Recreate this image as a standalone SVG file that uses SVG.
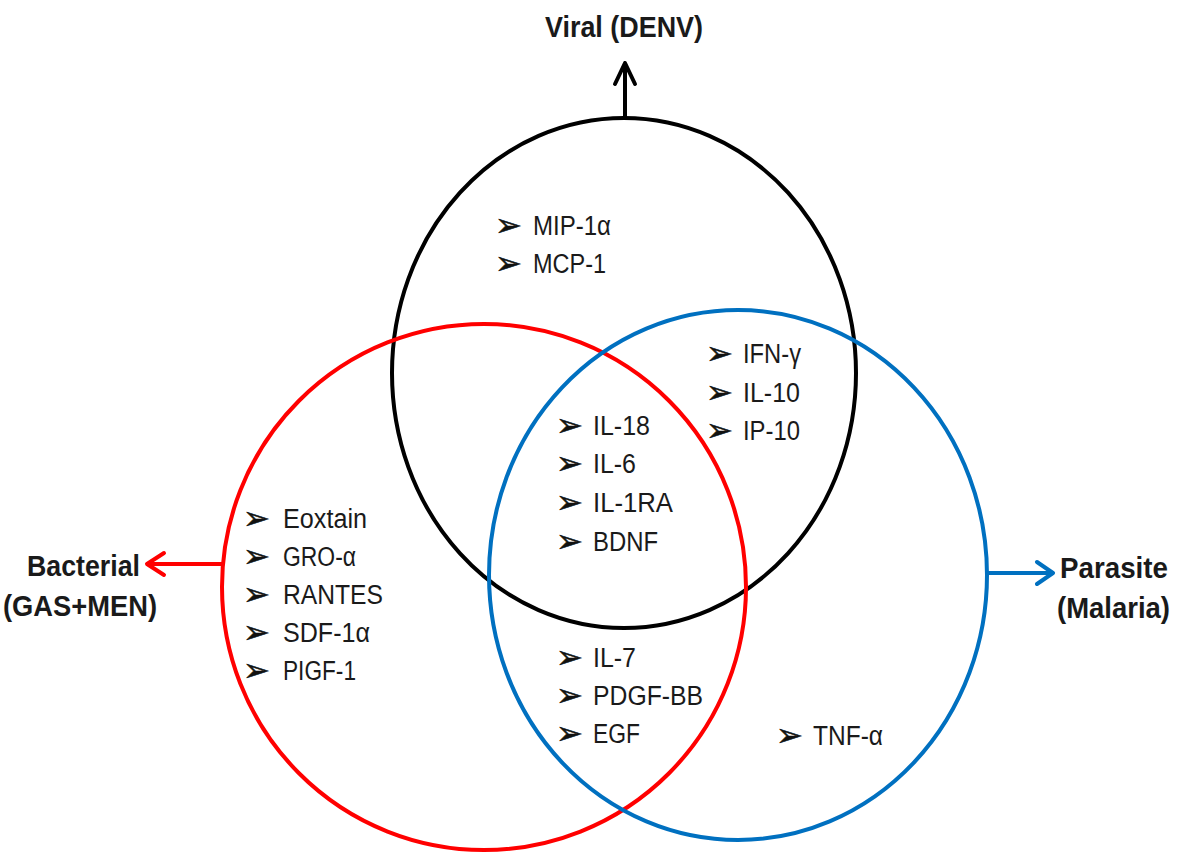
<svg xmlns="http://www.w3.org/2000/svg" width="1179" height="853" viewBox="0 0 1179 853">
  <style>
    .ring { fill: none; stroke-width: 4; }
    .lbl { font-family: "Liberation Sans", Arial, sans-serif; font-size: 30px; font-weight: bold; fill: #1a1a1a; }
    .item { font-family: "Liberation Sans", Arial, sans-serif; font-size: 27px; fill: #1a1a1a; }
    .bul { font-family: "DejaVu Sans", sans-serif; font-size: 32px; fill: #111; stroke: #111; stroke-width: 0.6; }
    .arw { fill: none; stroke-width: 4; stroke-linecap: round; stroke-linejoin: round; }
  </style>
  <rect width="1179" height="853" fill="#ffffff"/>

  <!-- set outlines -->
  <g id="viral">
    <ellipse class="ring" cx="624" cy="373" rx="232" ry="255" stroke="#000000"/>
    <text class="lbl" x="545" y="37" textLength="158" lengthAdjust="spacingAndGlyphs">Viral (DENV)</text>
  </g>
  <g id="bacterial">
    <ellipse class="ring" cx="484" cy="587" rx="262" ry="263" stroke="#ff0000"/>
    <text class="lbl" x="27" y="576" textLength="113" lengthAdjust="spacingAndGlyphs">Bacterial</text>
    <text class="lbl" x="3" y="616" textLength="154" lengthAdjust="spacingAndGlyphs">(GAS+MEN)</text>
  </g>
  <g id="parasite">
    <ellipse class="ring" cx="738" cy="575" rx="249" ry="265" stroke="#0070c0"/>
    <text class="lbl" x="1060" y="578" textLength="108" lengthAdjust="spacingAndGlyphs">Parasite</text>
    <text class="lbl" x="1057" y="618" textLength="113" lengthAdjust="spacingAndGlyphs">(Malaria)</text>
  </g>

  <!-- arrows from each set to its label -->
  <g id="connectors">
    <path class="arw" stroke="#000000" d="M625 118 V63 M615 84 L625 63 L635 84"/>
    <path class="arw" stroke="#ff0000" d="M222 564 H147 M164 553 L147 564 L164 575"/>
    <path class="arw" stroke="#0070c0" d="M988 573 H1053 M1037 562 L1053 573 L1037 584"/>
  </g>

  <!-- viral only -->
  <g id="list-viral">
    <text class="bul" x="495" y="236">➢</text><text class="item" x="533" y="235" textLength="78" lengthAdjust="spacingAndGlyphs">MIP-1α</text>
    <text class="bul" x="495" y="274">➢</text><text class="item" x="533" y="273" textLength="73" lengthAdjust="spacingAndGlyphs">MCP-1</text>
  </g>

  <!-- viral + parasite -->
  <g id="list-viral-parasite">
    <text class="bul" x="706" y="364">➢</text><text class="item" x="743" y="363" textLength="58" lengthAdjust="spacingAndGlyphs">IFN-γ</text>
    <text class="bul" x="706" y="403">➢</text><text class="item" x="743" y="402" textLength="57" lengthAdjust="spacingAndGlyphs">IL-10</text>
    <text class="bul" x="706" y="441">➢</text><text class="item" x="743" y="440" textLength="57" lengthAdjust="spacingAndGlyphs">IP-10</text>
  </g>

  <!-- all three -->
  <g id="list-common">
    <text class="bul" x="556" y="436">➢</text><text class="item" x="593" y="435" textLength="57" lengthAdjust="spacingAndGlyphs">IL-18</text>
    <text class="bul" x="556" y="474">➢</text><text class="item" x="593" y="473" textLength="43" lengthAdjust="spacingAndGlyphs">IL-6</text>
    <text class="bul" x="556" y="513">➢</text><text class="item" x="593" y="512" textLength="80" lengthAdjust="spacingAndGlyphs">IL-1RA</text>
    <text class="bul" x="556" y="552">➢</text><text class="item" x="593" y="551" textLength="65" lengthAdjust="spacingAndGlyphs">BDNF</text>
  </g>

  <!-- bacterial only -->
  <g id="list-bacterial">
    <text class="bul" x="243" y="529">➢</text><text class="item" x="283" y="528" textLength="84" lengthAdjust="spacingAndGlyphs">Eoxtain</text>
    <text class="bul" x="243" y="567">➢</text><text class="item" x="283" y="566" textLength="73" lengthAdjust="spacingAndGlyphs">GRO-α</text>
    <text class="bul" x="243" y="605">➢</text><text class="item" x="283" y="604" textLength="100" lengthAdjust="spacingAndGlyphs">RANTES</text>
    <text class="bul" x="243" y="643">➢</text><text class="item" x="283" y="642" textLength="87" lengthAdjust="spacingAndGlyphs">SDF-1α</text>
    <text class="bul" x="243" y="681">➢</text><text class="item" x="283" y="680" textLength="73" lengthAdjust="spacingAndGlyphs">PIGF-1</text>
  </g>

  <!-- bacterial + parasite -->
  <g id="list-bacterial-parasite">
    <text class="bul" x="556" y="668">➢</text><text class="item" x="593" y="667" textLength="43" lengthAdjust="spacingAndGlyphs">IL-7</text>
    <text class="bul" x="556" y="706">➢</text><text class="item" x="593" y="705" textLength="110" lengthAdjust="spacingAndGlyphs">PDGF-BB</text>
    <text class="bul" x="556" y="744">➢</text><text class="item" x="593" y="743" textLength="47" lengthAdjust="spacingAndGlyphs">EGF</text>
  </g>

  <!-- parasite only -->
  <g id="list-parasite">
    <text class="bul" x="776" y="746">➢</text><text class="item" x="813" y="745" textLength="70" lengthAdjust="spacingAndGlyphs">TNF-α</text>
  </g>
</svg>
